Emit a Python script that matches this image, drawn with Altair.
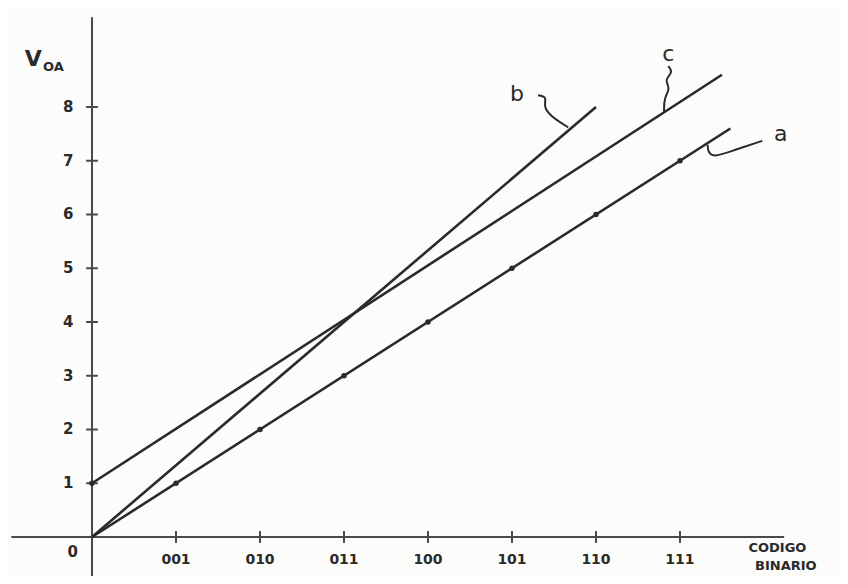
import altair as alt
import pandas as pd

# ---- data ----
codes = ["001", "010", "011", "100", "101", "110", "111"]
code_pos = [1, 2, 3, 4, 5, 6, 7]
y_ticks = [1, 2, 3, 4, 5, 6, 7, 8]

a_x = [0, 7.6]
a_y = [0, 7.6]
b_x = [0, 6.0]
b_y = [0, 8.0]
c_x = [0, 7.5]
c_y = [1, 8.6]

a_pts_x = [1, 2, 3, 4, 5, 6, 7]
a_pts_y = [1, 2, 3, 4, 5, 6, 7]

# annotation leaders (hand-drawn squiggles), data units
b_lead_x = [5.31, 5.42, 5.37, 5.48, 5.57, 5.67]
b_lead_y = [8.22, 8.19, 8.00, 7.81, 7.72, 7.62]
c_lead_x = [6.86, 6.92, 6.81, 6.89, 6.81, 6.81]
c_lead_y = [8.76, 8.65, 8.50, 8.35, 8.17, 7.92]
a_lead_x = [7.98, 7.65, 7.38, 7.33, 7.33]
a_lead_y = [7.37, 7.20, 7.05, 7.20, 7.30]

XD = [-1.0, 8.905]
YD = [-0.726, 9.842]
INK = "#2a2a2a"
AX = "#4a4a4a"
FONT = "DejaVu Sans"

xs = alt.Scale(domain=XD, nice=False, zero=False)
ys = alt.Scale(domain=YD, nice=False, zero=False)


def X(f="x"):
    return alt.X(f"{f}:Q", scale=xs, axis=None)


def Y(f="y"):
    return alt.Y(f"{f}:Q", scale=ys, axis=None)


# axes lines
xaxis = pd.DataFrame({"x": [-0.96], "x2": [8.24], "y": [0]})
yaxis = pd.DataFrame({"x": [0], "y": [-0.726], "y2": [9.67]})
axis_x = alt.Chart(xaxis).mark_rule(color=AX, strokeWidth=2).encode(
    x=X(), x2="x2:Q", y=Y())
axis_y = alt.Chart(yaxis).mark_rule(color=AX, strokeWidth=2).encode(
    x=X(), y=Y(), y2="y2:Q")

# ticks
xt = pd.DataFrame({"x": code_pos, "lo": [-0.11] * 7, "hi": [0.11] * 7, "lab": codes})
yt = pd.DataFrame({"y": y_ticks, "lo": [-0.07] * 8, "hi": [0.07] * 8})
xticks = alt.Chart(xt).mark_rule(color=AX, strokeWidth=2).encode(
    x=X(), y=Y("lo"), y2="hi:Q")
yticks = alt.Chart(yt).mark_rule(color=AX, strokeWidth=2).encode(
    y=Y(), x=X("lo"), x2="hi:Q")

xt["ly"] = -0.43
xlabels = alt.Chart(xt).mark_text(font=FONT, fontSize=14, color=INK, fontWeight="bold").encode(
    x=X(), y=Y("ly"), text="lab:N")
yt["lx"] = -0.22
ylabels = alt.Chart(yt).mark_text(font=FONT, fontSize=15, color=INK, fontWeight="bold",
                                  align="right").encode(
    x=X("lx"), y=Y(), text="y:Q")

zero = alt.Chart(pd.DataFrame({"x": [-0.23], "y": [-0.28], "t": ["0"]})).mark_text(
    font=FONT, fontSize=15, color=INK, fontWeight="bold").encode(x=X(), y=Y(), text="t:N")

# lines
def seg(xv, yv, name):
    return pd.DataFrame({"x": xv, "y": yv, "s": [name] * len(xv), "o": list(range(len(xv)))})


lines_df = pd.concat([seg(a_x, a_y, "a"), seg(b_x, b_y, "b"), seg(c_x, c_y, "c")])
lines = alt.Chart(lines_df).mark_line(color=INK, strokeWidth=2.6).encode(
    x=X(), y=Y(), detail="s:N", order="o:Q")

pts = alt.Chart(pd.DataFrame({"x": a_pts_x + [0], "y": a_pts_y + [1]})).mark_point(
    filled=True, color=INK, size=30, opacity=1).encode(x=X(), y=Y())

lead_df = pd.concat([seg(b_lead_x, b_lead_y, "b"), seg(c_lead_x, c_lead_y, "c"),
                     seg(a_lead_x, a_lead_y, "a")])
leaders = alt.Chart(lead_df).mark_line(color=INK, strokeWidth=2, interpolate="basis").encode(
    x=X(), y=Y(), detail="s:N", order="o:Q")

ann = pd.DataFrame({"x": [5.06, 6.86, 8.20], "y": [8.25, 8.98, 7.50], "t": ["b", "c", "a"]})
ann_text = alt.Chart(ann).mark_text(font=FONT, fontSize=22, color=INK).encode(
    x=X(), y=Y(), text="t:N")

# axis titles
titles = pd.DataFrame({
    "x": [-0.70, -0.46, 8.16, 8.26],
    "y": [8.89, 8.74, -0.21, -0.54],
    "t": ["V", "OA", "CODIGO", "BINARIO"],
    "fs": [22, 13, 13, 13],
})
title_text = alt.Chart(titles).mark_text(font=FONT, color=INK, fontWeight="bold").encode(
    x=X(), y=Y(), text="t:N", size=alt.Size("fs:Q", scale=None, legend=None))

chart = alt.layer(
    axis_x, axis_y, xticks, yticks, lines, pts, leaders,
    xlabels, ylabels, zero, ann_text, title_text
).properties(
    width=832, height=568, padding=0, background="#fcfcfa",
    autosize=alt.AutoSizeParams(type="none")
).configure_view(stroke=None)

chart.save("out.html", embed_options={"renderer": "svg", "actions": False})
